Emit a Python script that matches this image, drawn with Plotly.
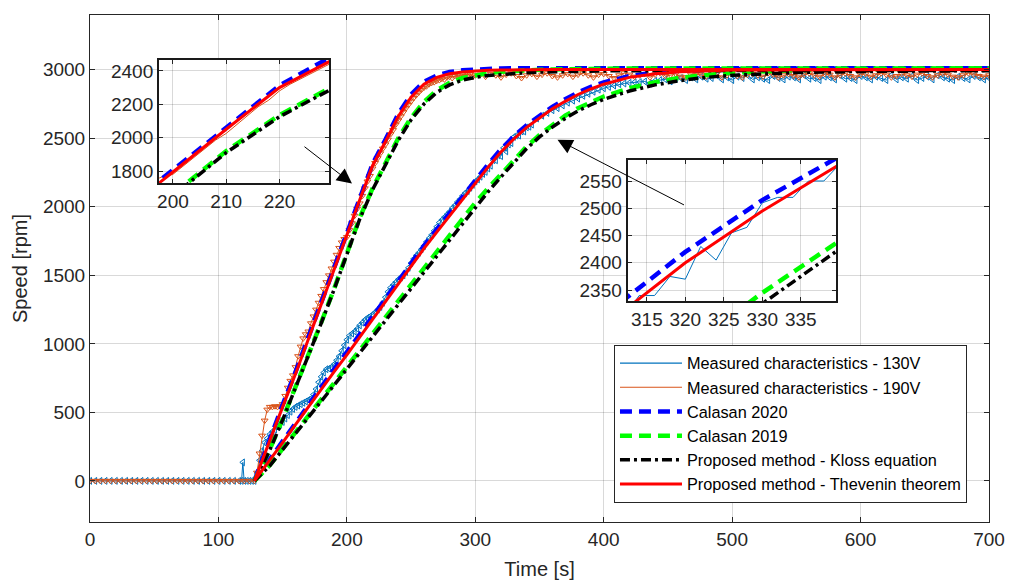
import plotly.graph_objects as go

# ---------------- data ----------------
t_model = [128, 140, 150, 160, 170, 180, 190, 200, 210, 220, 230, 240, 250, 260, 270,
           280, 290, 300, 310, 320, 330, 340, 350, 360, 370, 380, 390, 400, 420, 440, 460,
           480, 500, 550, 600, 650, 700]

# 190 V group
thevenin_190 = [0, 300, 540, 780, 1030, 1280, 1540, 1794, 2050, 2300, 2475,
                2660, 2800, 2895, 2945, 2972, 2985, 2992, 2996, 2998, 3000,
                3001, 3002, 3002, 3002, 3002, 3002, 3002,
                3002, 3002, 3002, 3002, 3002, 3002, 3002, 3002, 3002]
calasan2020_190 = [0, 315, 555, 795, 1045, 1295, 1555, 1806, 2062, 2312, 2490,
                   2678, 2820, 2912, 2958, 2984, 2997, 3004, 3008, 3010, 3011,
                   3012, 3012, 3012, 3012, 3012, 3012, 3012,
                   3012, 3012, 3012, 3012, 3012, 3012, 3012, 3012, 3012]
calasan2019_190 = [0, 230, 450, 680, 915, 1155, 1400, 1660, 1920, 2135, 2320,
                   2500, 2650, 2765, 2850, 2905, 2940, 2962, 2976, 2985, 2992,
                   2997, 3000, 3003, 3005, 3007, 3008, 3009,
                   3010, 3010, 3010, 3010, 3010, 3010, 3010, 3010, 3010]
kloss_190 = [0, 225, 445, 675, 910, 1150, 1395, 1650, 1910, 2125, 2310,
             2485, 2635, 2750, 2835, 2890, 2925, 2945, 2958, 2967, 2974,
             2979, 2983, 2986, 2988, 2990, 2991, 2992,
             2993, 2994, 2994, 2995, 2995, 2995, 2995, 2995, 2995]

# 130 V group
thevenin_130 = [0, 150, 280, 410, 540, 665, 795, 920, 1050, 1180, 1305,
                1435, 1565, 1695, 1815, 1935, 2055, 2170, 2290, 2400, 2495,
                2580, 2650, 2715, 2770, 2820, 2860, 2895,
                2945, 2972, 2986, 2994, 2998, 3001, 3002, 3002, 3002]
calasan2020_130 = [0, 160, 295, 425, 555, 685, 815, 940, 1070, 1200, 1325,
                   1455, 1585, 1715, 1835, 1955, 2075, 2190, 2310, 2420, 2515,
                   2595, 2665, 2730, 2785, 2835, 2875, 2908,
                   2955, 2980, 2994, 3002, 3006, 3010, 3012, 3012, 3012]
calasan2019_130 = [0, 115, 235, 355, 475, 595, 715, 835, 955, 1075, 1195,
                   1315, 1435, 1555, 1670, 1790, 1910, 2030, 2135, 2240, 2345,
                   2440, 2525, 2600, 2665, 2720, 2765, 2805,
                   2865, 2910, 2943, 2965, 2980, 2998, 3005, 3008, 3010]
kloss_130 = [0, 110, 228, 346, 464, 582, 700, 818, 937, 1056, 1175,
             1294, 1412, 1530, 1646, 1764, 1882, 2000, 2110, 2218, 2325,
             2425, 2510, 2582, 2645, 2700, 2745, 2785,
             2845, 2890, 2922, 2945, 2960, 2980, 2988, 2992, 2994]

# measured 190 V
t_meas190 = list(range(0, 128, 4)) + list(range(128, 302, 2)) + list(range(304, 704, 4))
v_meas190 = ([0] * 32 +
             [0,
              60, 200, 330, 440, 520,
              540, 540, 545, 540, 545,
              560, 620, 680, 730, 770,
              830, 910, 980, 1040, 1070,
              1090, 1150, 1200, 1250, 1300,
              1350, 1400, 1450, 1500, 1550,
              1600, 1650, 1700, 1740, 1765,
              1780, 1830, 1880, 1935, 1985,
              2025, 2080, 2135, 2185, 2225,
              2280, 2320, 2355, 2390, 2425,
              2455, 2490, 2530, 2560, 2600,
              2630, 2660, 2690, 2720, 2745,
              2770, 2795, 2815, 2835, 2855,
              2870, 2880, 2895, 2905, 2910,
              2920, 2925, 2935, 2930, 2945,
              2950, 2940, 2955, 2960, 2950,
              2965, 2955, 2960, 2970, 2950,
              2960] +
             [2965, 2950, 2970, 2960, 2945, 2965, 2975, 2955, 2940, 2960,
              2970, 2950, 2965, 2975, 2955, 2945, 2960, 2970, 2950, 2965,
              2975, 2960, 2945, 2965, 2970, 2955, 2940, 2960, 2975, 2965,
              2950, 2960, 2970, 2945, 2965, 2975, 2955, 2960, 2970, 2950,
              2945, 2965, 2975, 2960, 2950, 2965, 2970, 2945, 2960, 2975,
              2955, 2945, 2965, 2970, 2960, 2950, 2975, 2965, 2945, 2960,
              2970, 2955, 2945, 2965, 2975, 2960, 2950, 2970, 2965, 2945,
              2960, 2975, 2955, 2945, 2965, 2970, 2950, 2960, 2975, 2965,
              2945, 2955, 2970, 2960, 2950, 2965, 2975, 2955, 2945, 2960,
              2970, 2965, 2950, 2945, 2960, 2975, 2965, 2955, 2950, 2960])

# measured 130 V
t_meas130 = (list(range(0, 120, 4)) + [118, 119, 120, 122, 124, 126] +
             list(range(128, 346, 2)) + list(range(348, 704, 4)))
v_meas130 = ([0] * 30 + [0, 135, 0, 0, 0, 0] +
             [0,
              60, 150, 220, 280, 310,
              340, 360, 375, 395, 410,
              430, 455, 480, 505, 525,
              540, 550, 560, 570, 580,
              590, 600, 630, 670, 720,
              760, 790, 815, 820, 830,
              850, 880, 910, 950, 990,
              1030, 1060, 1075, 1090, 1110,
              1135, 1155, 1175, 1190, 1200,
              1215, 1230, 1250, 1270, 1300,
              1340, 1380, 1410, 1430, 1450,
              1470, 1485, 1500, 1525, 1555,
              1590, 1620, 1645, 1665, 1690,
              1715, 1745, 1770, 1795, 1825,
              1855, 1885, 1905, 1925, 1945,
              1965, 1990, 2010, 2035, 2055,
              2080, 2100, 2115, 2140, 2160,
              2185, 2200, 2220, 2240, 2255,
              2280, 2300, 2340, 2340, 2375,
              2370, 2430, 2405, 2455, 2465,
              2510, 2520, 2520, 2550, 2550,
              2580, 2585, 2600] +
             [2645, 2665, 2685, 2705, 2720, 2740, 2760, 2775, 2790, 2810,
              2825, 2840, 2855, 2865, 2875, 2885, 2895, 2900, 2905, 2910,
              2910, 2915, 2900, 2920, 2925, 2930, 2915, 2935, 2940, 2925,
              2945, 2930, 2950, 2935, 2940, 2960, 2930, 2945, 2925, 2950,
              2940, 2960, 2930, 2945, 2935, 2925, 2955, 2940, 2930, 2950,
              2945, 2930, 2960, 2935, 2940, 2925, 2950, 2945, 2930, 2960,
              2935, 2940, 2925, 2955, 2945, 2930, 2950, 2940, 2925, 2960,
              2930, 2945, 2935, 2955, 2925, 2940, 2950, 2930, 2960, 2945,
              2935, 2925, 2950, 2940, 2930, 2955, 2945, 2930, 2940])

x_ticks = [0, 100, 200, 300, 400, 500, 600, 700]
y_ticks = [0, 500, 1000, 1500, 2000, 2500, 3000]
inset1_xticks = [200, 210, 220]
inset1_yticks = [1800, 2000, 2200, 2400]
inset2_xticks = [315, 320, 325, 330, 335]
inset2_yticks = [2350, 2400, 2450, 2500, 2550]

names = ["Measured characteristics - 130V", "Measured characteristics - 190V",
         "Calasan 2020", "Calasan 2019", "Proposed method - Kloss equation",
         "Proposed method - Thevenin theorem"]

# ---------------- styles ----------------
C_M130 = "#0072BD"
C_M190 = "#D95319"
st_blue = dict(color="#0000FF", width=4.5, dash="12px,7px")
st_green = dict(color="#00FF00", width=4.5, dash="12px,7px")
st_black = dict(color="#000000", width=3.5, dash="10px,4px,3px,4px")
st_red = dict(color="#FF0000", width=3)

FONT = "Liberation Sans, Arial, sans-serif"
TXT = "#262626"
GRID = "rgba(0,0,0,0.15)"

fig = go.Figure()


def add_group(xa, ya, markers):
    mk130 = dict(symbol="triangle-left-open", size=6, color=C_M130, line=dict(width=1))
    mk190 = dict(symbol="triangle-down-open", size=6, color=C_M190, line=dict(width=1))
    mode = "lines+markers" if markers else "lines"
    fig.add_trace(go.Scatter(x=t_meas130, y=v_meas130, mode=mode, line=dict(color=C_M130, width=1),
                             marker=mk130, showlegend=False, xaxis=xa, yaxis=ya, hoverinfo="skip"))
    fig.add_trace(go.Scatter(x=t_meas190, y=v_meas190, mode=mode, line=dict(color=C_M190, width=1),
                             marker=mk190, showlegend=False, xaxis=xa, yaxis=ya, hoverinfo="skip"))
    for series, st in [(calasan2020_130, st_blue), (calasan2020_190, st_blue),
                       (calasan2019_130, st_green), (calasan2019_190, st_green),
                       (kloss_130, st_black), (kloss_190, st_black),
                       (thevenin_130, st_red), (thevenin_190, st_red)]:
        fig.add_trace(go.Scatter(x=t_model, y=series, mode="lines", line=st,
                                 showlegend=False, xaxis=xa, yaxis=ya, hoverinfo="skip"))


add_group("x", "y", True)
add_group("x2", "y2", False)
add_group("x3", "y3", False)

# legend-only entries (line samples)
for name, st in zip(names, [dict(color=C_M130, width=1.2), dict(color=C_M190, width=1.2),
                            st_blue, st_green, st_black, st_red]):
    fig.add_trace(go.Scatter(x=[None], y=[None], mode="lines", line=st, name=name,
                             showlegend=True, xaxis="x", yaxis="y"))

ins1_x = [0.0768, 0.2659]
ins1_y = [0.6686, 0.9112]
ins2_x = [0.598, 0.830]
ins2_y = [0.4359, 0.714]

TICKFONT = dict(family=FONT, size=19, color=TXT)
axis_common = dict(showgrid=True, gridcolor=GRID, gridwidth=1, zeroline=False,
                   ticks="inside", tickcolor=TXT, tickfont=TICKFONT, automargin=False)
inset_axis = dict(showline=True, linecolor="#1a1a1a", linewidth=2, mirror="ticks", ticklen=4,
                  **axis_common)

fig.update_layout(
    width=1019, height=583,
    margin=dict(l=90, r=30, t=15, b=61),
    paper_bgcolor="white", plot_bgcolor="white",
    font=dict(family=FONT, color=TXT),
    xaxis=dict(domain=[0, 1], range=[0, 700], tickvals=x_ticks, showline=True, linecolor=TXT,
               linewidth=1, mirror="ticks", ticklen=5,
               title=dict(text="Time [s]", font=dict(family=FONT, size=20, color=TXT), standoff=13),
               **axis_common),
    yaxis=dict(domain=[0, 1], range=[-300, 3400], tickvals=y_ticks, showline=True, linecolor=TXT,
               linewidth=1, mirror="ticks", ticklen=5,
               title=dict(text="Speed [rpm]", font=dict(family=FONT, size=20, color=TXT), standoff=9),
               **axis_common),
    xaxis2=dict(domain=ins1_x, anchor="y2", range=[197.4, 229.3], tickvals=inset1_xticks, **inset_axis),
    yaxis2=dict(domain=ins1_y, anchor="x2", range=[1728, 2465], tickvals=inset1_yticks, **inset_axis),
    xaxis3=dict(domain=ins2_x, anchor="y3", range=[312.5, 339.6], tickvals=inset2_xticks, **inset_axis),
    yaxis3=dict(domain=ins2_y, anchor="x3", range=[2330, 2588.5], tickvals=inset2_yticks, **inset_axis),
    legend=dict(x=0.9755, xanchor="right", y=0.0375, yanchor="bottom",
                bgcolor="white", bordercolor=TXT, borderwidth=1,
                font=dict(family=FONT, size=16.3, color="#000000"),
                itemwidth=62, tracegroupgap=0),
    showlegend=True,
)

# opaque backgrounds for the insets (drawn in the inset subplots, below their grids)
for xr, yr in [("x2 domain", "y2 domain"), ("x3 domain", "y3 domain")]:
    fig.add_shape(type="rect", xref=xr, yref=yr, x0=0, x1=1, y0=0, y1=1,
                  fillcolor="white", line=dict(width=0), layer="below")

# arrows
fig.add_annotation(x=204, y=2170, xref="x", yref="y", ax=-49, ay=-38, axref="pixel", ayref="pixel",
                   showarrow=True, arrowhead=2, arrowsize=3, arrowwidth=1, arrowcolor="black", text="")
fig.add_annotation(x=364, y=2490, xref="x", yref="y", ax=128, ay=66, axref="pixel", ayref="pixel",
                   showarrow=True, arrowhead=2, arrowsize=3, arrowwidth=1, arrowcolor="black", text="")

fig.write_html("out.html", config={"displayModeBar": False},
               post_script="document.body.style.margin='0px';")
